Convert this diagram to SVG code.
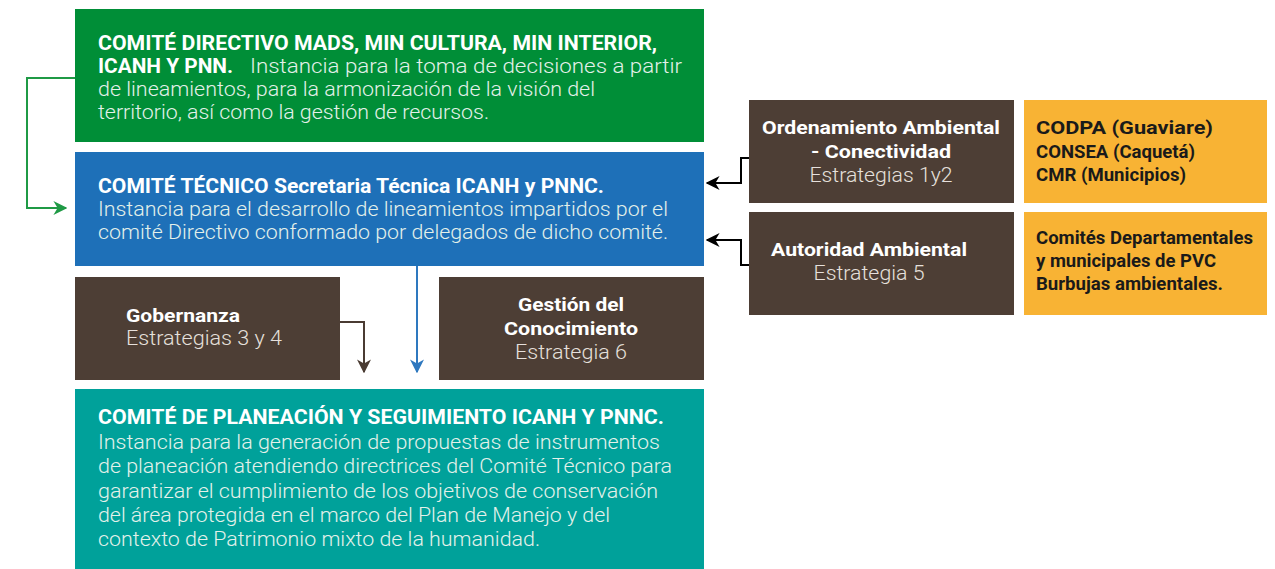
<svg xmlns="http://www.w3.org/2000/svg" width="1275" height="569" viewBox="0 0 1275 569">
<style>
text{font-family:Roboto,"Liberation Sans",sans-serif;font-size:20px}
.b{font-weight:700;fill:#ffffff}
.l{font-weight:300;fill:#e4f1ea}
.k{font-weight:700;fill:#1a1a1a;font-size:18px}
.rb{font-weight:700;fill:#ffffff;font-size:19px}
.rl{font-weight:300;fill:#e6e0dc;font-size:20px}
</style>
<defs>
<marker id="ag" viewBox="0 0 10 10" refX="9" refY="5" markerWidth="7" markerHeight="7" orient="auto"><path d="M0,0 L10,5 L0,10 L3,5 Z" fill="#1f9a45"/></marker>
<marker id="ab" viewBox="0 0 10 10" refX="9" refY="5" markerWidth="7" markerHeight="7" orient="auto"><path d="M0,0 L10,5 L0,10 L3,5 Z" fill="#2e78bf"/></marker>
<marker id="ar" viewBox="0 0 10 10" refX="9" refY="5" markerWidth="7" markerHeight="7" orient="auto"><path d="M0,0 L10,5 L0,10 L3,5 Z" fill="#4a3b32"/></marker>
<marker id="ak" viewBox="0 0 10 10" refX="9" refY="5" markerWidth="7" markerHeight="7" orient="auto"><path d="M0,0 L10,5 L0,10 L3,5 Z" fill="#000"/></marker>
</defs>
<rect width="1275" height="569" fill="#ffffff"/>
<g id="directivo">
<rect x="75" y="9" width="629" height="133" fill="#008e37"/>
<text class="b" x="98" y="50" textLength="559" lengthAdjust="spacingAndGlyphs">COMITÉ DIRECTIVO MADS, MIN CULTURA, MIN INTERIOR,</text>
<text class="b" x="98" y="73" textLength="135" lengthAdjust="spacingAndGlyphs">ICANH Y PNN.</text>
<text class="l" x="250" y="73" textLength="432" lengthAdjust="spacingAndGlyphs">Instancia para la toma de decisiones a partir</text>
<text class="l" x="98" y="96" textLength="497" lengthAdjust="spacingAndGlyphs">de lineamientos, para la armonización de la visión del</text>
<text class="l" x="98" y="119" textLength="391" lengthAdjust="spacingAndGlyphs">territorio, así como la gestión de recursos.</text>
</g>
<g id="tecnico">
<rect x="75" y="152" width="629" height="114" fill="#1e70b8"/>
<text class="b" x="98" y="193" textLength="506" lengthAdjust="spacingAndGlyphs">COMITÉ TÉCNICO Secretaria Técnica ICANH y PNNC.</text>
<text class="l" x="98" y="216" textLength="570" lengthAdjust="spacingAndGlyphs">Instancia para el desarrollo de lineamientos impartidos por el</text>
<text class="l" x="98" y="239" textLength="570" lengthAdjust="spacingAndGlyphs">comité Directivo conformado por delegados de dicho comité.</text>
</g>
<g id="gobernanza">
<rect x="75" y="277" width="265" height="103" fill="#4d3e35"/>
<text class="rb" x="126" y="322" textLength="114" lengthAdjust="spacingAndGlyphs">Gobernanza</text>
<text class="rl" x="126" y="345" textLength="156" lengthAdjust="spacingAndGlyphs">Estrategias 3 y 4</text>
</g>
<g id="gestion">
<rect x="439" y="277" width="265" height="103" fill="#4d3e35"/>
<text class="rb" x="571" y="311" text-anchor="middle" textLength="106" lengthAdjust="spacingAndGlyphs">Gestión del</text>
<text class="rb" x="571" y="335" text-anchor="middle" textLength="134" lengthAdjust="spacingAndGlyphs">Conocimiento</text>
<text class="rl" x="571" y="359" text-anchor="middle" textLength="112" lengthAdjust="spacingAndGlyphs">Estrategia 6</text>
</g>
<g id="planeacion">
<rect x="75" y="389" width="629" height="180" fill="#00a19a"/>
<text class="b" x="98" y="424" textLength="566" lengthAdjust="spacingAndGlyphs">COMITÉ DE PLANEACIÓN Y SEGUIMIENTO ICANH Y PNNC.</text>
<text class="l" x="98" y="449" textLength="562" lengthAdjust="spacingAndGlyphs">Instancia para la generación de propuestas de instrumentos</text>
<text class="l" x="98" y="473" textLength="574" lengthAdjust="spacingAndGlyphs">de planeación atendiendo directrices del Comité Técnico para</text>
<text class="l" x="98" y="498" textLength="560" lengthAdjust="spacingAndGlyphs">garantizar el cumplimiento de los objetivos de conservación</text>
<text class="l" x="98" y="522" textLength="512" lengthAdjust="spacingAndGlyphs">del área protegida en el marco del Plan de Manejo y del</text>
<text class="l" x="98" y="546" textLength="442" lengthAdjust="spacingAndGlyphs">contexto de Patrimonio mixto de la humanidad.</text>
</g>
<g id="ordenamiento">
<rect x="749" y="100" width="265" height="103" fill="#4d3e35"/>
<text class="rb" x="881" y="134" text-anchor="middle" textLength="238" lengthAdjust="spacingAndGlyphs">Ordenamiento Ambiental</text>
<text class="rb" x="881" y="158" text-anchor="middle" textLength="140" lengthAdjust="spacingAndGlyphs">- Conectividad</text>
<text class="rl" x="881" y="182" text-anchor="middle" textLength="143" lengthAdjust="spacingAndGlyphs">Estrategias 1y2</text>
</g>
<g id="autoridad">
<rect x="749" y="212" width="265" height="103" fill="#4d3e35"/>
<text class="rb" x="869" y="256" text-anchor="middle" textLength="196" lengthAdjust="spacingAndGlyphs">Autoridad Ambiental</text>
<text class="rl" x="869" y="280" text-anchor="middle" textLength="111" lengthAdjust="spacingAndGlyphs">Estrategia 5</text>
</g>
<g id="codpa">
<rect x="1024" y="100" width="243" height="103" fill="#f8b334"/>
<text class="k" x="1036" y="134" textLength="177" lengthAdjust="spacingAndGlyphs">CODPA (Guaviare)</text>
<text class="k" x="1036" y="158" textLength="159" lengthAdjust="spacingAndGlyphs">CONSEA (Caquetá)</text>
<text class="k" x="1036" y="181" textLength="150" lengthAdjust="spacingAndGlyphs">CMR (Municipios)</text>
</g>
<g id="comites">
<rect x="1024" y="212" width="243" height="103" fill="#f8b334"/>
<text class="k" x="1036" y="244" textLength="217" lengthAdjust="spacingAndGlyphs">Comités Departamentales</text>
<text class="k" x="1036" y="267" textLength="180" lengthAdjust="spacingAndGlyphs">y municipales de PVC</text>
<text class="k" x="1036" y="290" textLength="187" lengthAdjust="spacingAndGlyphs">Burbujas ambientales.</text>
</g>
<g id="connectors" fill="none" stroke-width="2">
<path d="M75,78 H27 V208 H66" stroke="#1f9a45" marker-end="url(#ag)"/>
<path d="M417,266 V372" stroke="#2e78bf" marker-end="url(#ab)"/>
<path d="M340,322 H364 V372" stroke="#4a3b32" marker-end="url(#ar)"/>
<path d="M749,158 H741 V183 H707" stroke="#000" marker-end="url(#ak)"/>
<path d="M749,265 H741 V240 H707" stroke="#000" marker-end="url(#ak)"/>
</g>
</svg>
